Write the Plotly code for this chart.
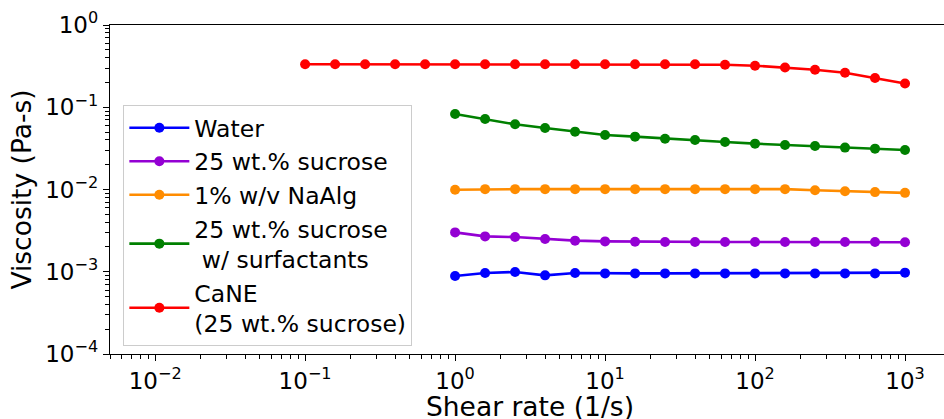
import plotly.graph_objects as go

# ---- data ----
shear_rate = [1, 1.585, 2.512, 3.981, 6.31, 10, 15.85, 25.12, 39.81, 63.1,
              100, 158.5, 251.2, 398.1, 631, 1000]
shear_rate_cane = [0.1, 0.1585, 0.2512, 0.3981, 0.631, 1, 1.585, 2.512, 3.981, 6.31,
                   10, 15.85, 25.12, 39.81, 63.1, 100, 158.5, 251.2, 398.1, 631, 1000]

water = [0.000888, 0.000966, 0.000993, 0.000904, 0.000966, 0.000955, 0.000955,
         0.000955, 0.000955, 0.000955, 0.000955, 0.000955, 0.000955, 0.000955,
         0.000955, 0.000975]
sucrose = [0.00301, 0.00269, 0.00264, 0.00250, 0.00239, 0.00234, 0.00232, 0.00230,
           0.00230, 0.00230, 0.00230, 0.00230, 0.00230, 0.00230, 0.00230, 0.00228]
naalg = [0.00995, 0.0101, 0.0101, 0.0101, 0.0101, 0.0101, 0.0101, 0.0101, 0.0101,
         0.0101, 0.0101, 0.0101, 0.0098, 0.0095, 0.0093, 0.0091]
surfactants = [0.0828, 0.0720, 0.0620, 0.0560, 0.0505, 0.0460, 0.0439, 0.0415,
               0.0400, 0.0378, 0.0361, 0.0348, 0.0338, 0.0323, 0.0314, 0.0302]
cane = [0.333, 0.333, 0.333, 0.333, 0.333, 0.333, 0.333, 0.333, 0.333, 0.333,
        0.333, 0.333, 0.333, 0.333, 0.329, 0.320, 0.305, 0.286, 0.263, 0.227, 0.194]

series_names = ["Water", "25 wt.% sucrose", "1% w/v NaAlg",
                "25 wt.% sucrose<br>\u00a0w/ surfactants",
                "CaNE<br>(25 wt.% sucrose)"]
series_colors = ["#0000ff", "#9400d3", "#ff8c00", "#008000", "#ff0000"]

x_title = "Shear rate (1/s)"
y_title = "Viscosity (Pa-s)"

x_tick_vals = [0.01, 0.1, 1, 10, 100, 1000]
x_tick_text = ["10<sup>\u22122</sup>", "10<sup>\u22121</sup>", "10<sup>0</sup>",
               "10<sup>1</sup>", "10<sup>2</sup>", "10<sup>3</sup>"]
y_tick_vals = [0.0001, 0.001, 0.01, 0.1, 1]
y_tick_text = ["10<sup>\u22124</sup>", "10<sup>\u22123</sup>", "10<sup>\u22122</sup>",
               "10<sup>\u22121</sup>", "10<sup>0</sup>"]

minor_x = [m * 10.0 ** e for e in range(-3, 4) for m in range(2, 10)]
minor_y = [m * 10.0 ** e for e in range(-5, 1) for m in range(2, 10)]

FONT = "DejaVu Sans"

fig = go.Figure()
ys = [water, sucrose, naalg, surfactants, cane]
xs = [shear_rate, shear_rate, shear_rate, shear_rate, shear_rate_cane]
for name, col, xv, yv in zip(series_names, series_colors, xs, ys):
    fig.add_trace(go.Scatter(
        x=xv, y=yv, name=name, mode="lines+markers",
        line=dict(color=col, width=2.6),
        marker=dict(color=col, size=10),
    ))

fig.update_layout(
    width=944, height=419,
    margin=dict(l=110, r=0, t=25, b=65),
    paper_bgcolor="white", plot_bgcolor="white",
    font=dict(family=FONT, size=23, color="black"),
    showlegend=True,
    legend=dict(
        x=0.016, y=0.757, xanchor="left", yanchor="top",
        bgcolor="rgba(255,255,255,0.8)", bordercolor="#cccccc", borderwidth=1,
        font=dict(family=FONT, size=23.5, color="black"),
        itemwidth=60, tracegroupgap=0,
    ),
)
# x-axis title placed as an annotation so it can sit exactly where the reference has it
fig.add_annotation(
    text=x_title, xref="paper", yref="paper", x=0.5035, y=0,
    xanchor="center", yanchor="bottom", yshift=-70, showarrow=False,
    font=dict(family=FONT, size=26.5, color="black"),
)
fig.update_xaxes(
    type="log", range=[-2.301, 3.26], automargin=False,
    tickvals=x_tick_vals, ticktext=x_tick_text,
    ticks="outside", ticklen=6, tickwidth=1.3, tickcolor="black",
    minor=dict(tickvals=minor_x, ticks="outside", ticklen=3.5, tickwidth=1, tickcolor="black"),
    showline=True, linecolor="black", linewidth=1.3, mirror=True,
    showgrid=False, zeroline=False,
    tickfont=dict(family=FONT, size=23, color="black"),
)
fig.update_yaxes(
    type="log", range=[-4, 0], automargin=False,
    tickvals=y_tick_vals, ticktext=y_tick_text,
    ticks="outside", ticklen=6, tickwidth=1.3, tickcolor="black",
    minor=dict(tickvals=minor_y, ticks="outside", ticklen=3.5, tickwidth=1, tickcolor="black"),
    showline=True, linecolor="black", linewidth=1.3, mirror=False,
    showgrid=False, zeroline=False,
    tickfont=dict(family=FONT, size=23, color="black"),
    title=dict(text=y_title, font=dict(family=FONT, size=26.5, color="black"), standoff=5),
)

fig.write_html("out.html")
